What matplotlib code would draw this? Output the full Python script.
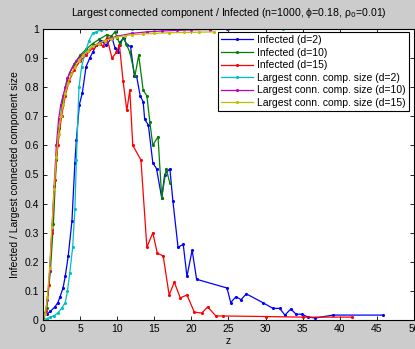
import numpy as np
import matplotlib.pyplot as plt

plt.rcParams['font.family'] = ['Liberation Sans', 'DejaVu Sans']

# Infected (d=2)
z_inf2 = [0, 0.5, 1.0, 1.6, 2.0, 2.3, 2.7, 3.0, 3.4, 3.9, 4.3, 4.5, 4.9, 5.3, 5.8, 6.3, 6.7, 7.2, 7.8, 8.5,
          9.3, 9.7, 10.1, 10.4, 10.9, 11.3, 11.8, 12.3, 12.6, 13.1, 13.5, 13.7, 14.2, 14.8, 15.3, 16.0, 16.4,
          17.1, 17.5, 18.2, 18.9, 19.4, 20.1, 20.7, 24.8, 25.3, 26.0, 26.7, 27.4, 29.6, 31.0, 31.9, 32.6,
          33.4, 34.1, 34.9, 35.7, 36.7, 39.1, 45.8]
y_inf2 = [0.01, 0.02, 0.03, 0.045, 0.06, 0.08, 0.11, 0.15, 0.22, 0.34, 0.54, 0.62, 0.74, 0.78, 0.87, 0.9,
          0.92, 0.945, 0.96, 0.945, 0.97, 0.935, 0.92, 0.955, 0.97, 0.945, 0.94, 0.84, 0.84, 0.77, 0.75, 0.69,
          0.67, 0.54, 0.52, 0.42, 0.5, 0.52, 0.41, 0.25, 0.26, 0.15, 0.24, 0.14, 0.11, 0.06, 0.08, 0.07, 0.09,
          0.06, 0.04, 0.04, 0.017, 0.038, 0.02, 0.02, 0.01, 0.007, 0.017, 0.017]

# Infected (d=10)
z_inf10 = [0, 0.5, 1.0, 1.4, 1.8, 2.2, 2.7, 3.2, 3.6, 4.2, 5.0, 5.8, 6.7, 7.6, 8.6, 9.2, 9.7, 10.0, 10.4,
           10.8, 11.2, 11.7, 12.4, 12.9, 13.5, 14.0, 14.4, 14.8, 15.5, 16.0, 16.6, 17.1]
y_inf10 = [0.01, 0.04, 0.17, 0.33, 0.55, 0.66, 0.76, 0.82, 0.85, 0.88, 0.91, 0.93, 0.95, 0.965, 0.98, 0.975,
           0.99, 0.97, 0.945, 0.97, 0.95, 0.92, 0.84, 0.91, 0.79, 0.77, 0.68, 0.6, 0.63, 0.42, 0.52, 0.47]

# Infected (d=15)
z_inf15 = [0, 0.4, 0.8, 1.2, 1.6, 2.0, 2.5, 3.0, 3.5, 4.2, 5.0, 5.8, 6.7, 7.2, 7.7, 8.1, 8.6, 9.3, 9.9,
           10.3, 10.8, 11.3, 11.7, 12.1, 13.2, 14.0, 14.8, 15.4, 16.2, 17.0, 17.7, 18.5, 19.4, 20.4, 21.4,
           22.2, 23.3, 24.3, 30.0, 35.0, 41.6]
y_inf15 = [0.01, 0.03, 0.12, 0.3, 0.48, 0.6, 0.7, 0.77, 0.82, 0.86, 0.89, 0.91, 0.935, 0.945, 0.95, 0.94,
           0.97, 0.9, 0.92, 0.945, 0.82, 0.72, 0.79, 0.6, 0.55, 0.25, 0.3, 0.23, 0.22, 0.086, 0.13, 0.076,
           0.086, 0.027, 0.024, 0.045, 0.014, 0.014, 0.012, 0.01, 0.01]

# Largest conn. comp. size (d=2)
z_lcc2 = [0, 0.5, 1, 1.5, 2, 2.5, 3, 3.3, 3.6, 4.0, 4.3, 4.5, 4.85, 5.2, 5.7, 6.2, 6.7, 7.2, 7.8, 8.5,
          9.8, 12, 15, 20, 25, 32.3]
y_lcc2 = [0, 0.005, 0.01, 0.015, 0.025, 0.04, 0.06, 0.1, 0.16, 0.25, 0.38, 0.55, 0.8, 0.87, 0.92, 0.96,
          0.985, 0.99, 0.997, 0.999, 1.0, 1.0, 1.0, 1.0, 1.0, 1.0]

# Largest conn. comp. size (d=10)
z_lcc10 = [0, 0.3, 0.6, 0.9, 1.2, 1.5, 1.8, 2.1, 2.4, 2.7, 3.0, 3.3, 3.6, 4.0, 4.5, 5.0, 5.5, 6.0, 6.7,
           7.5, 8.3, 9.0, 10, 11, 12, 14, 16, 18, 20, 22.5, 24.8]
y_lcc10 = [0, 0.02, 0.07, 0.17, 0.31, 0.46, 0.6, 0.69, 0.74, 0.77, 0.8, 0.83, 0.85, 0.87, 0.89, 0.905,
           0.915, 0.925, 0.94, 0.95, 0.96, 0.968, 0.975, 0.98, 0.985, 0.99, 0.993, 0.995, 0.997, 0.998, 0.999]

# Largest conn. comp. size (d=15)
z_lcc15 = [0, 0.3, 0.6, 0.9, 1.2, 1.5, 1.8, 2.1, 2.4, 2.7, 3.0, 3.4, 3.8, 4.3, 4.8, 5.4, 6.0, 6.7, 7.5,
           8.3, 9.2, 10, 11, 12, 13.5, 15, 17, 19, 21, 23]
y_lcc15 = [0, 0.02, 0.08, 0.18, 0.32, 0.45, 0.56, 0.64, 0.7, 0.74, 0.78, 0.815, 0.845, 0.87, 0.89, 0.91,
           0.925, 0.94, 0.95, 0.96, 0.967, 0.972, 0.977, 0.98, 0.983, 0.985, 0.987, 0.988, 0.989, 0.99]

series = [
    (z_inf2, y_inf2, (0, 0, 1), 'Infected (d=2)'),
    (z_inf10, y_inf10, (0, 0.5, 0), 'Infected (d=10)'),
    (z_inf15, y_inf15, (1, 0, 0), 'Infected (d=15)'),
    (z_lcc2, y_lcc2, (0, 0.75, 0.75), 'Largest conn. comp. size (d=2)'),
    (z_lcc10, y_lcc10, (0.75, 0, 0.75), 'Largest conn. comp. size (d=10)'),
    (z_lcc15, y_lcc15, (0.75, 0.75, 0), 'Largest conn. comp. size (d=15)'),
]

fig = plt.figure(figsize=(4.15, 3.49), dpi=100, facecolor=(0.8, 0.8, 0.8))
ax = fig.add_axes([0.1036, 0.083, 0.894, 0.834])

for z, y, c, lab in series:
    ax.plot(z, y, '.-', color=c, lw=0.9, ms=2.5, label=lab)

ax.set_xlim(0, 50)
ax.set_ylim(0, 1)
ax.set_xticks(np.arange(0, 51, 5))
ax.set_yticks(np.arange(0, 1.01, 0.1))
ax.set_yticklabels(['0', '0.1', '0.2', '0.3', '0.4', '0.5', '0.6', '0.7', '0.8', '0.9', '1'])
ax.tick_params(direction='in', top=True, right=True, labelsize=7.5, length=3, width=0.6, pad=3)
for s in ax.spines.values():
    s.set_linewidth(0.8)

ax.set_xlabel('z', fontsize=7.5, labelpad=1)
ax.set_ylabel('Infected / Largest connected component size', fontsize=7.5, labelpad=3)
ax.set_title('Largest connected component / Infected (n=1000, \u03d5=0.18, \u03c1$_0$=0.01)',
             fontsize=7.6, pad=9)

leg = ax.legend(loc='upper right', bbox_to_anchor=(0.987, 0.99), fontsize=7.5, frameon=True,
                fancybox=False, edgecolor='black', framealpha=1, handlelength=3.1,
                labelspacing=0.25, borderpad=0.3, handletextpad=0.4, borderaxespad=0)
leg.get_frame().set_linewidth(0.8)

fig.savefig('out.png', dpi=100, facecolor=fig.get_facecolor())
